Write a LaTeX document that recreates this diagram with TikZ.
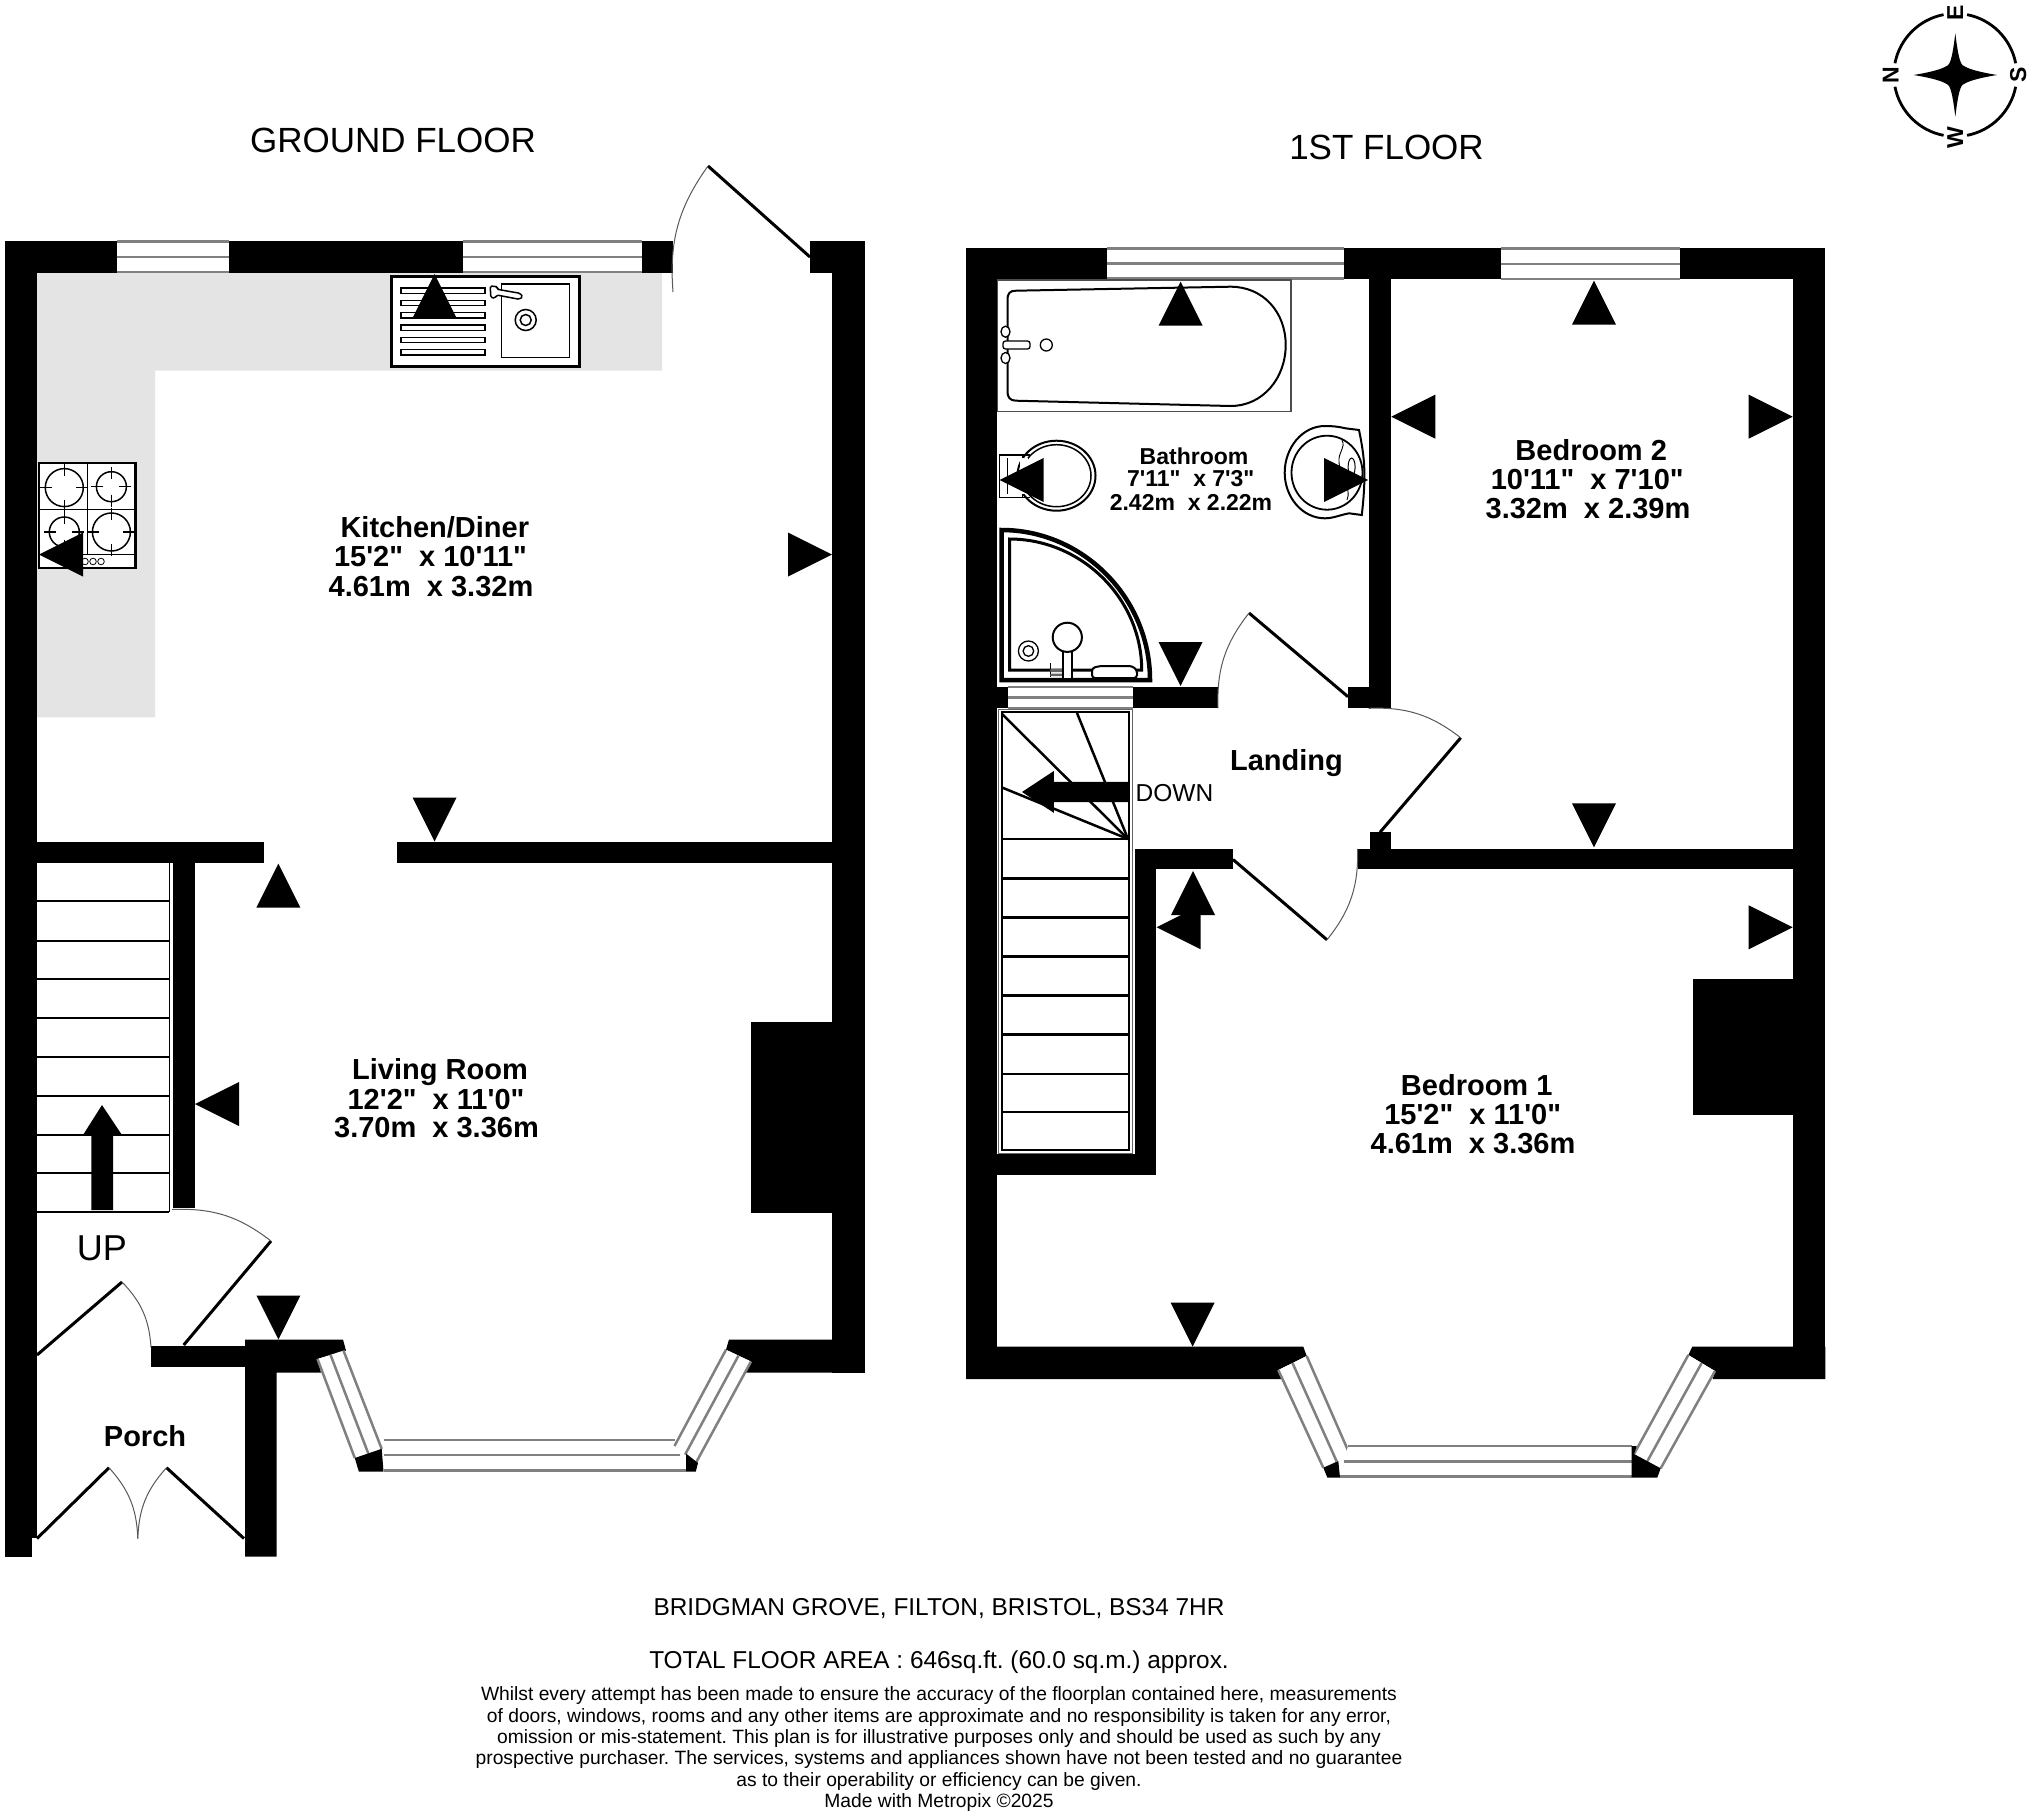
\documentclass[tikz,border=0pt]{standalone}
\usepackage{fontspec}
\usetikzlibrary{calc}
\newfontfamily\ls{Liberation Sans}
\definecolor{wingrey}{HTML}{808080}
\definecolor{worktop}{HTML}{E4E4E4}
\newcommand{\fs}[1]{\fontsize{#1}{#1}\selectfont}
\tikzset{
  lab/.style={font=\ls\bfseries\fs{29}, anchor=base, inner sep=0pt, yshift=-10.4pt},
  labs/.style={font=\ls\bfseries\fs{23}, anchor=base, inner sep=0pt, yshift=-8.2pt},
  reg/.style={font=\ls\frenchspacing\fs{#1}, anchor=base, inner sep=0pt},
  win/.style={draw=wingrey, line width=2.5pt},
  leaf/.style={draw=black, line width=3pt},
  swing/.style={draw=black!65, line width=1pt},
  fix/.style={draw=black, line width=2pt, fill=white},
}
\newcommand{\tru}[2]{\fill (#1,#2) -- ++(-22,44) -- ++(44,0) -- cycle;}
\newcommand{\trd}[2]{\fill (#1,#2) -- ++(-22,-44) -- ++(44,0) -- cycle;}
\newcommand{\trl}[2]{\fill (#1,#2) -- ++(44,-22) -- ++(0,44) -- cycle;}
\newcommand{\trr}[2]{\fill (#1,#2) -- ++(-44,-22) -- ++(0,44) -- cycle;}
% window: outer side #1-#2, inner side #3-#4
\newcommand{\bay}[4]{%
  \fill[white] (#1) -- (#2) -- (#4) -- (#3) -- cycle;
  \draw[win] (#1) -- (#2);
  \draw[win] (#3) -- (#4);
  \draw[win] ($(#1)!.5!(#3)$) -- ($(#2)!.5!(#4)$);}
\begin{document}
\begin{tikzpicture}[x=1pt,y=-1pt]
\useasboundingbox (0,0) rectangle (2032,1815);
\fill[white] (0,0) rectangle (2032,1815);

% ---------- GROUND FLOOR ----------
\fill[worktop] (37,273) -- (662,273) -- (662,370.5) -- (155,370.5) -- (155,717.4) -- (37,717.4) -- cycle;
% walls
\fill (5,240.5) rectangle (673,273);
\fill (810,240.5) rectangle (864.5,273);
\fill (5,240.5) rectangle (37,1538);
\fill (5,1538) rectangle (32,1556.5);
\fill (832,240.5) rectangle (864.5,1372.5);
\fill (37,841.5) rectangle (264,863);
\fill (397,841.5) rectangle (832,863);
\fill (172.8,862) rectangle (194.6,1208);
\fill (751,1021.7) rectangle (832,1212.8);
\fill (151,1345.5) rectangle (245,1366.5);
\fill (245,1339.5) -- (343,1339.5) -- (346,1350.6) -- (317.5,1359) -- (321,1372.5) -- (276.7,1372.5) -- (276.7,1556.5) -- (245,1556.5) -- cycle;
\fill (729,1339.5) -- (864.5,1339.5) -- (864.5,1372.5) -- (745,1372.5) -- (751,1361.5) -- (726,1349.7) -- cycle;
% windows
\bay{116.5,241.5}{228.5,241.5}{116.5,272}{228.5,272}
\bay{463,241.5}{642,241.5}{463,272}{642,272}
\bay{317.5,1359}{354.8,1458}{343.5,1350.6}{381.7,1448.8}
\bay{383.5,1470.5}{686,1470.5}{383.5,1439.8}{674.5,1439.8}
\bay{751,1361.5}{695.8,1463}{726,1349.7}{674.5,1446}
\fill (354.8,1458) -- (381.7,1448.8) -- (383.5,1471.5) -- (358.8,1471.5) -- cycle;
\fill (686,1453.5) -- (698,1463) -- (695.8,1471.5) -- (686,1471.5) -- cycle;
% sink
\draw[draw=black,line width=3pt,fill=white] (391.5,276.7) rectangle (579,366);
\foreach \yy in {290.7,303,315.3,327.7,340,352.3}
  \draw[line width=1.3pt] (401,\yy-2.8) rectangle (485,\yy+2.8);
\draw[line width=1.5pt] (501.3,284) rectangle (569.3,357.7);
\draw[line width=1.5pt] (525.7,320) ellipse (10.5 and 10.5);
\draw[line width=1.5pt] (525.7,320) ellipse (5.5 and 5.5);
\draw[draw=black,line width=1.5pt,fill=white,rounded corners=1.5pt] (490.3,286) -- (497.3,286.7) -- (497.3,289.3) -- (520,293.3) -- (522.7,296.7) -- (519.3,299.3) -- (496.7,295) -- (495,298.3) -- (490.7,297.3) -- cycle;
% hob
\draw[draw=black,line width=2.2pt,fill=white] (39,462.8) rectangle (135.5,568.2);
\draw[line width=1.2pt] (87.3,462.8) -- (87.3,554.8) (39,509.7) -- (135.5,509.7) (39,554.8) -- (135.5,554.8);
\foreach \bx/\by/\br in {64.3/487.6/19,111.4/486.7/15,64.3/532/15,111.4/532/19}{
  \draw[line width=1.5pt,fill=white] (\bx,\by) ellipse (\br pt and \br pt);
  \draw[line width=1.5pt] (\bx-\br+7,\by) -- (\bx-\br-5,\by) (\bx+\br-7,\by) -- (\bx+\br+5,\by) (\bx,\by-\br+7) -- (\bx,\by-\br-5) (\bx,\by+\br-7) -- (\bx,\by+\br+5);
}
\foreach \kx in {85,93,101} \draw[line width=.8pt] (\kx,561.5) ellipse (3.3 and 3.3);
% stairs
\draw[line width=1pt] (169,862) -- (169,1212);
\foreach \yy in {901.3,940.5,979.2,1018.4,1057,1095.8,1134.5,1173.2,1211.9}
  \draw[line width=2pt] (37,\yy) -- (169,\yy);
\fill (91.3,1210) -- (91.3,1135) -- (83,1135) -- (102,1105) -- (122,1135) -- (113,1135) -- (113,1210) -- cycle;
% doors
\coordinate (gdA) at (708,166); \coordinate (gdB) at (810,257);
\coordinate (gdC) at (673,292);
\draw[leaf] (gdA) -- (gdB);
\draw[swing] (gdA) to[bend right=20] (gdC);
\coordinate (liA) at (271,1241); \coordinate (liB) at (183.7,1345); \coordinate (liC) at (172,1209.5);
\draw[leaf] (liA) -- (liB);
\draw[swing] (liC) to[bend left=20] (liA);
\coordinate (poA) at (37,1355); \coordinate (poB) at (122,1282); \coordinate (poC) at (151,1347);
\draw[leaf] (poA) -- (poB);
\draw[swing] (poB) to[bend left=20] (poC);
\coordinate (flA) at (37,1538.5); \coordinate (flB) at (109,1467.7);
\coordinate (frA) at (244,1538.5); \coordinate (frB) at (166.5,1467.7); \coordinate (fm) at (137.8,1538.5);
\draw[leaf] (flA) -- (flB); \draw[leaf] (frA) -- (frB);
\draw[swing] (flB) to[bend left=20] (fm);
\draw[swing] (frB) to[bend right=20] (fm);
% triangles
\tru{434.6}{274} \trl{39}{554.5} \trr{832}{554.5} \trd{434.6}{841.5}
\tru{278.4}{863.6} \trl{195}{1104} \trd{278.4}{1339.5}

% ---------- FIRST FLOOR ----------
% walls
\fill (966,247.7) rectangle (1825.3,278.5);
\fill (966,247.7) rectangle (997.2,1379);
\fill (1793.3,247.7) rectangle (1825.3,1379);
\fill (1369,247.7) rectangle (1390.7,708);
\fill (997,686.7) rectangle (1218,707.7);
\fill (1348,686.7) rectangle (1369,707.7);
\fill (1134.5,848.8) rectangle (1233,869.4);
\fill (1134.5,848.8) rectangle (1155.9,1175);
\fill (997,1154) rectangle (1155.9,1175);
\fill (1357.6,848.5) rectangle (1793.3,869.4);
\fill (1369.7,832.3) rectangle (1391,849);
\fill (1693.3,979.3) rectangle (1793.3,1115);
\fill (966,1346.7) -- (1303.3,1346.7) -- (1306.7,1356) -- (1278.3,1370) -- (1283,1379) -- (966,1379) -- cycle;
\fill (1692.3,1346.7) -- (1825.3,1346.7) -- (1825.3,1379) -- (1712.7,1379) -- (1715,1371) -- (1688.3,1355) -- cycle;
% windows
\bay{1107,248.5}{1344,248.5}{1107,278.5}{1344,278.5}
\bay{1500.7,248.5}{1680,248.5}{1500.7,279}{1680,279}
\bay{1007.5,687}{1132.6,687}{1007.5,708}{1132.6,708}
\bay{1278.3,1370}{1323.3,1467.7}{1306.7,1356}{1350,1455}
\bay{1340,1476.7}{1631.7,1476.7}{1348,1446}{1631.7,1446}
\bay{1715,1371}{1660.7,1468.3}{1688.3,1355}{1634,1454}
\fill (1323.3,1467.7) -- (1338.3,1461) -- (1340,1477.5) -- (1327.3,1477.5) -- cycle;
\fill (1631.7,1446) -- (1636.7,1446) -- (1634,1454) -- (1660.7,1468.3) -- (1657.3,1477.5) -- (1631.7,1477.5) -- cycle;
% bath
\draw[draw=black!70,line width=1.5pt] (997.3,280) rectangle (1290.8,411.7);
\draw[line width=2pt] (1007.5,300) .. controls (1007.5,293) and (1010,290.7) .. (1016,290.7) -- (1230.6,286.7)
  .. controls (1263,286.7) and (1285.7,312) .. (1285.7,345) .. controls (1285.7,378) and (1263,406) .. (1230.6,406)
  -- (1016,400.7) .. controls (1010,400.7) and (1007.5,397) .. (1007.5,392) -- cycle;
\draw[draw=black,line width=1.3pt,fill=white,rounded corners=2.5pt] (1003,341) rectangle (1030,349);
\draw[draw=black,line width=1.3pt,fill=white] (1005.5,331.7) ellipse (4.5 and 5.5);
\draw[draw=black,line width=1.3pt,fill=white] (1005.5,358) ellipse (4.5 and 5.5);
\draw[line width=1.3pt] (1046.3,345) ellipse (6 and 6);
% toilet
\draw[line width=1.5pt] (999.7,455) rectangle (1022.7,497.7);
\draw[line width=1pt] (1007,458) -- (1007,494);
\draw[fix] (1056.5,475.7) ellipse (39 and 35);
\draw[line width=1.5pt] (1056.5,475.7) ellipse (34.5 and 31);
\fill[white] (1020,458) rectangle (1028,494);
\draw[line width=1.5pt] (1022.7,455) -- (1030,455) (1022.7,497.7) -- (1030,497.7);
% basin
\draw[line width=2pt] (1359,430) -- (1345.5,428.3) .. controls (1338,426.5) and (1332,426) .. (1325,426)
  .. controls (1302,426) and (1284.7,448) .. (1284.7,472.7) .. controls (1284.7,497) and (1302,518.3) .. (1325,518.3)
  .. controls (1333,518.3) and (1340,515) .. (1349,513.3) -- (1361.8,515) .. controls (1364,495) and (1365,480) .. (1364,463) .. controls (1363,450) and (1361,440) .. (1359,430) -- cycle;
\draw[line width=1.8pt] (1327,472.7) ellipse (35.5 and 37);
\draw[line width=.9pt] (1342,440) .. controls (1346,448) and (1338,452) .. (1339,462) .. controls (1340,478) and (1352,488) .. (1347,500);
\draw[line width=1pt] (1351.6,467) ellipse (3.5 and 9);
% shower
\draw[line width=4.5pt,line join=miter] (1001.5,680) -- (1001.5,530) .. controls (1083,530) and (1150,598) .. (1150,680) -- cycle;
\draw[line width=3pt] (1009.5,670) -- (1009.5,539) .. controls (1081,539) and (1141.7,598) .. (1141.7,670) -- cycle;
\draw[line width=1pt] (1050.4,663) -- (1050.4,677);
\fill[black!60] (1050.4,669) rectangle (1062.6,672) (1050.4,673.5) rectangle (1062.6,676);
\fill[white] (1062.6,652) rectangle (1072.4,678);
\draw[line width=2pt] (1062.6,650) -- (1062.6,677.5) (1072.4,650) -- (1072.4,677.5);
\draw[fix] (1067.3,637.3) circle (14.6);
\draw[line width=1.3pt] (1028.4,651) circle (10);
\draw[line width=1.3pt] (1028.4,651) circle (5.3);
\draw[fix,rounded corners=3pt] (1092,678) -- (1092,668) -- (1100,666) -- (1132,666) -- (1137,670) -- (1137,678) -- cycle;
% stairs
\draw[draw=black!60,line width=1pt] (998,709) rectangle (1132.4,1153);
\draw[line width=2.5pt] (1002,712) rectangle (1129,1150);
\foreach \yy in {839.2,878.6,917.6,956.7,995.7,1034.7,1073.8,1112}
  \draw[line width=2.5pt] (1002,\yy) -- (1129,\yy);
\coordinate (wn) at (1128,839);
\draw[line width=2.5pt] (wn) -- (1002,714);
\draw[line width=2.5pt] (wn) -- (1077,713);
\draw[line width=2.5pt] (wn) -- (1002,787.5);
\fill (1129,781.8) -- (1053.8,781.8) -- (1053.8,771) -- (1022,792) -- (1053.8,812.8) -- (1053.8,802) -- (1129,802) -- cycle;
% doors
\coordinate (d1A) at (1249,613); \coordinate (d1B) at (1348,696.7); \coordinate (d1C) at (1218,708);
\draw[leaf] (d1A) -- (d1B);
\draw[swing] (d1A) to[bend right=20] (d1C);
\coordinate (d2A) at (1460.7,737.8); \coordinate (d2B) at (1380,832.3); \coordinate (d2C) at (1368.6,708.3);
\draw[leaf] (d2A) -- (d2B);
\draw[swing] (d2C) to[bend left=20] (d2A);
\coordinate (d3A) at (1233,859.5); \coordinate (d3B) at (1327,939.8); \coordinate (d3C) at (1357.6,848.8);
\draw[leaf] (d3A) -- (d3B);
\draw[swing] (d3B) to[bend right=20] (d3C);
% triangles
\tru{1180.6}{281.7} \trl{999.7}{480} \trr{1368}{480} \trd{1180.6}{686}
\tru{1594}{280.7} \trl{1391.3}{416.7} \trr{1792.7}{416.7} \trd{1594}{847.3}
\trr{1792.7}{927.3} \tru{1193}{871} \trl{1156.6}{927.2} \trd{1192.6}{1346.7}

% ---------- COMPASS ----------
\coordinate (cmp) at (1955.3,75);
\foreach \aa in {0,90,180,270}
  \draw[line width=2.8pt] (cmp) ++(\aa+11:61.5pt) arc[start angle=\aa+11,end angle=\aa+79,radius=61.5pt];
\fill (1955.3,33.3) .. controls (1958,55) and (1960,65) .. (1964,66) .. controls (1970,70) and (1985,73) .. (1997,75)
  .. controls (1985,77) and (1970,80) .. (1964,84) .. controls (1960,85) and (1958,95) .. (1955.3,116.7)
  .. controls (1952.6,95) and (1950.6,85) .. (1946.6,84) .. controls (1940.6,80) and (1925.6,77) .. (1913.6,75)
  .. controls (1925.6,73) and (1940.6,70) .. (1946.6,66) .. controls (1950.6,65) and (1952.6,55) .. (1955.3,33.3) -- cycle;
\foreach \nn/\cx/\cy/\lt in {cE/1955.3/12.7/E,cS/2018.3/75/S,cN/1890.7/75/N,cW/1955.3/138/W}
  \node[font=\ls\bfseries\fs{23},rotate=90,inner sep=0pt] (\nn) at (\cx,\cy) {\lt};

% ---------- TEXT ----------
\node[reg=35] (tG) at (393,152) {GROUND FLOOR};
\node[reg=35] (tF) at (1386.5,159) {1ST FLOOR};

\node[lab] (k1) at (434.8,527) {Kitchen/Diner};
\node[lab] (k2) at (430.5,556.5) {15'2"\ \ x 10'11"};
\node[lab] (k3) at (431,586.4) {4.61m\ \ x 3.32m};
\node[lab] (l1) at (440,1069) {Living Room};
\node[lab] (l2) at (436,1098.6) {12'2"\ \ x 11'0"};
\node[lab] (l3) at (436.5,1127) {3.70m\ \ x 3.36m};
\node[lab] (p1) at (145,1435.6) {Porch};
\node[reg=36] (up) at (102,1260) {UP};

\node[labs] (b1) at (1194,456) {Bathroom};
\node[labs] (b2) at (1190.7,478.7) {7'11"\ \ x 7'3"};
\node[labs] (b3) at (1191,502.3) {2.42m\ \ x 2.22m};
\node[lab] (r1) at (1591.2,450) {Bedroom 2};
\node[lab] (r2) at (1587.2,479.3) {10'11"\ \ x 7'10"};
\node[lab] (r3) at (1588,508.3) {3.32m\ \ x 2.39m};
\node[lab] (s1) at (1476.7,1084.8) {Bedroom 1};
\node[lab] (s2) at (1472.7,1113.8) {15'2"\ \ x 11'0"};
\node[lab] (s3) at (1473,1142.7) {4.61m\ \ x 3.36m};
\node[lab] (la) at (1286.5,759.6) {Landing};
\node[reg=24.5] (dn) at (1174.5,801) {DOWN};

\node[reg=24.4] (f1) at (939,1615.5) {BRIDGMAN GROVE, FILTON, BRISTOL, BS34 7HR};
\node[reg=24.4] (f2) at (939,1668) {TOTAL FLOOR AREA : 646sq.ft. (60.0 sq.m.) approx.};
\node[reg=19.25] (d1) at (939,1700.5) {Whilst every attempt has been made to ensure the accuracy of the floorplan contained here, measurements};
\node[reg=19.25] (d2) at (939,1722) {of doors, windows, rooms and any other items are approximate and no responsibility is taken for any error,};
\node[reg=19.25] (d3) at (939,1743.2) {omission or mis-statement. This plan is for illustrative purposes only and should be used as such by any};
\node[reg=19.25] (d4) at (939,1764.5) {prospective purchaser. The services, systems and appliances shown have not been tested and no guarantee};
\node[reg=19.25] (d5) at (939,1786) {as to their operability or efficiency can be given.};
\node[reg=19.25] (d6) at (939,1807.2) {Made with Metropix \textcopyright 2025};
\end{tikzpicture}
\end{document}
